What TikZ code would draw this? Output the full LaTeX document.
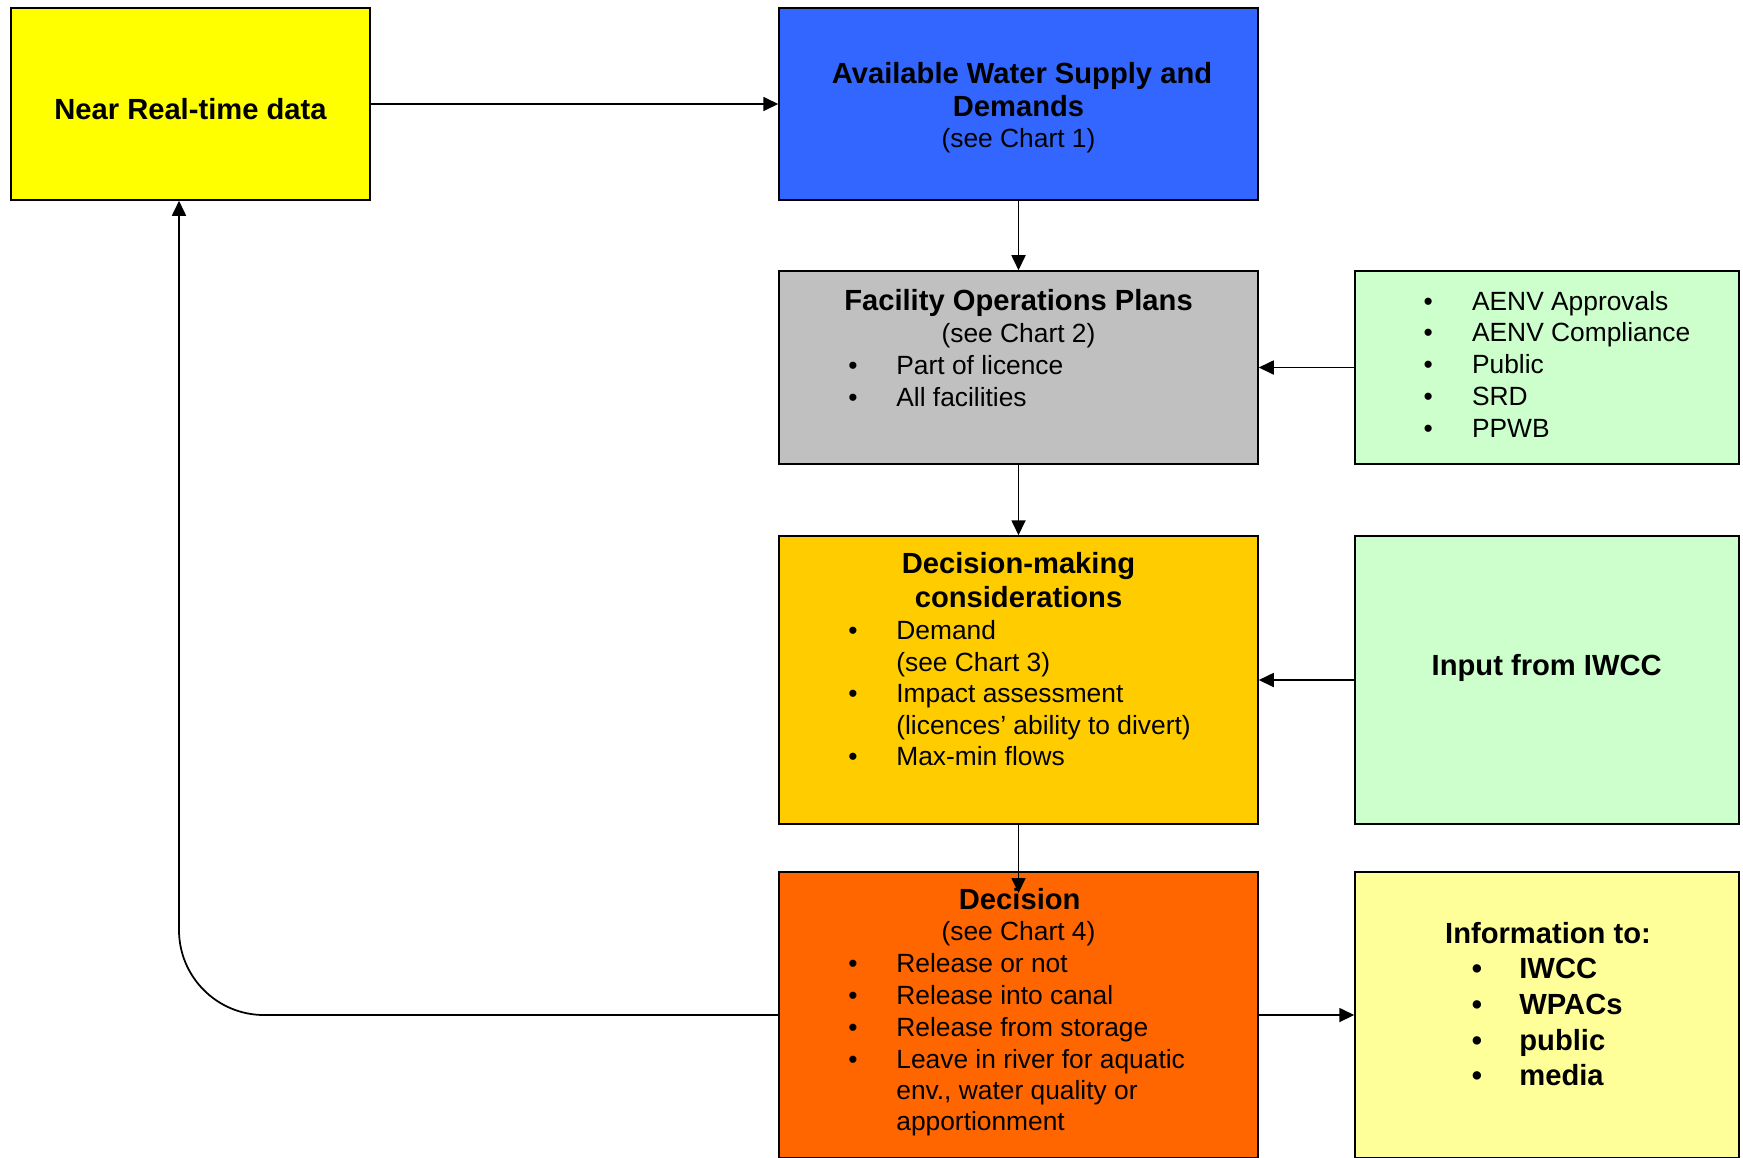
\documentclass[tikz,border=0pt]{standalone}
\usepackage{fontspec}
\usepackage{xcolor}
\setmainfont{Liberation Sans}
\usetikzlibrary{arrows.meta}

\definecolor{nearyellow}{HTML}{FFFF00}
\definecolor{supplyblue}{HTML}{3366FF}
\definecolor{plangrey}{HTML}{C0C0C0}
\definecolor{palegreen}{HTML}{CCFFCC}
\definecolor{considergold}{HTML}{FFCC00}
\definecolor{decisionorange}{HTML}{FF6600}
\definecolor{infoyellow}{HTML}{FFFF99}

\begin{document}
\begin{tikzpicture}[x=0.02cm, y=-0.02cm, >={Triangle[length=0.3cm, width=0.28cm]},
    box/.style={draw, line width=0.9pt, inner sep=0pt, minimum width=9.58cm},
    side/.style={draw, line width=0.9pt, inner sep=0pt, minimum width=7.68cm},
    head/.style={anchor=base, inner sep=0pt, font=\fontsize{16.6}{20}\selectfont\bfseries},
    note/.style={anchor=base, inner sep=0pt, font=\fontsize{15}{18}\selectfont},
    item/.style={anchor=base west, inner sep=0pt, font=\fontsize{15}{18}\selectfont},
    dot/.style={anchor=base, inner sep=0pt, font=\fontsize{15}{18}\selectfont},
    link/.style={->, line width=1pt}]

    \useasboundingbox (0,0) rectangle (1743,1157);

    % Boxes
    \node[box, fill=nearyellow, minimum width=7.18cm, minimum height=3.84cm] (near) at (190.5,104) {};
    \node[box, fill=supplyblue, minimum height=3.84cm] (supply) at (1018.5,104) {};
    \node[box, fill=plangrey, minimum height=3.86cm] (plans) at (1018.5,367.5) {};
    \node[side, fill=palegreen, minimum height=3.86cm] (stake) at (1547,367.5) {};
    \node[box, fill=considergold, minimum height=5.76cm] (consider) at (1018.5,680) {};
    \node[side, fill=palegreen, minimum height=5.76cm] (iwcc) at (1547,680) {};
    \node[box, fill=decisionorange, minimum height=5.72cm] (decision) at (1018.5,1015) {};
    \node[side, fill=infoyellow, minimum height=5.72cm] (info) at (1547,1015) {};

    % Near real-time data
    \node[head] (near-t) at (190.5,119.5) {Near Real-time data};

    % Water supply
    \node[head] (supply-t1) at (1022,83.2) {Available Water Supply and};
    \node[head] (supply-t2) at (1018.5,116.5) {Demands};
    \node[note] (supply-t3) at (1018.5,147.7) {(see Chart 1)};

    % Operations plans
    \node[head] (plans-t1) at (1018.5,310) {Facility Operations Plans};
    \node[note] (plans-t2) at (1018.5,342.3) {(see Chart 2)};
    \foreach \y/\t [count=\i] in {374.6/Part of licence, 406.8/All facilities} {
        \node[dot] (plans-b\i) at (853,\y) {\textbullet};
        \node[item] (plans-i\i) at (896,\y) {\t};
    }

    % Stakeholders
    \foreach \y/\t [count=\i] in {310/AENV Approvals, 341.8/AENV Compliance, 373.6/Public, 405.4/SRD, 437.2/PPWB} {
        \node[dot] (stake-b\i) at (1428.3,\y) {\textbullet};
        \node[item] (stake-i\i) at (1471.7,\y) {\t};
    }

    % Considerations
    \node[head] (consider-t1) at (1018.5,573.3) {Decision-making};
    \node[head] (consider-t2) at (1018.5,607.3) {considerations};
    \foreach \y [count=\i] in {639.5, 702.5, 765.5}
        \node[dot] (consider-b\i) at (853,\y) {\textbullet};
    \foreach \y/\t [count=\i] in {639.5/Demand, 671/(see Chart 3), 702.5/Impact assessment,
        734/(licences’ ability to divert), 765.5/Max-min flows}
        \node[item] (consider-i\i) at (896,\y) {\t};

    % IWCC
    \node[head] (iwcc-t) at (1546.7,675) {Input from IWCC};

    % Decision
    \node[head] (decision-t1) at (1019.7,909.3) {Decision};
    \node[note] (decision-t2) at (1018.5,940) {(see Chart 4)};
    \foreach \y [count=\i] in {972, 1004, 1036, 1068}
        \node[dot] (decision-b\i) at (853,\y) {\textbullet};
    \foreach \y/\t [count=\i] in {972/Release or not, 1004/Release into canal, 1036/Release from storage,
        1068/Leave in river for aquatic, {1099/env., water quality or}, 1130/apportionment}
        \node[item] (decision-i\i) at (896,\y) {\t};

    % Information
    \node[head] (info-t) at (1548,943.3) {Information to:};
    \foreach \y/\t [count=\i] in {978.3/IWCC, 1014.3/WPACs, 1050/public, 1085.5/media} {
        \node[dot, font=\fontsize{16.6}{20}\selectfont\bfseries] (info-b\i) at (1477,\y) {\textbullet};
        \node[item, font=\fontsize{16.6}{20}\selectfont\bfseries] (info-i\i) at (1519,\y) {\t};
    }

    % Connectors
    \coordinate (tip) at (1018.5,893);
    \coordinate (bend) at (179,1015);
    \draw[link] (near) -- (supply);
    \draw[link] (supply) -- (plans);
    \draw[link] (plans) -- (consider);
    \draw[link] (stake) -- (plans);
    \draw[link] (iwcc) -- (consider);
    \draw[link] (consider) -- (tip);
    \draw[link] (decision) -- (info);
    \draw[link, rounded corners=1.7cm] (decision.west) -- (bend) -- (bend |- near.south);

\end{tikzpicture}
\end{document}
